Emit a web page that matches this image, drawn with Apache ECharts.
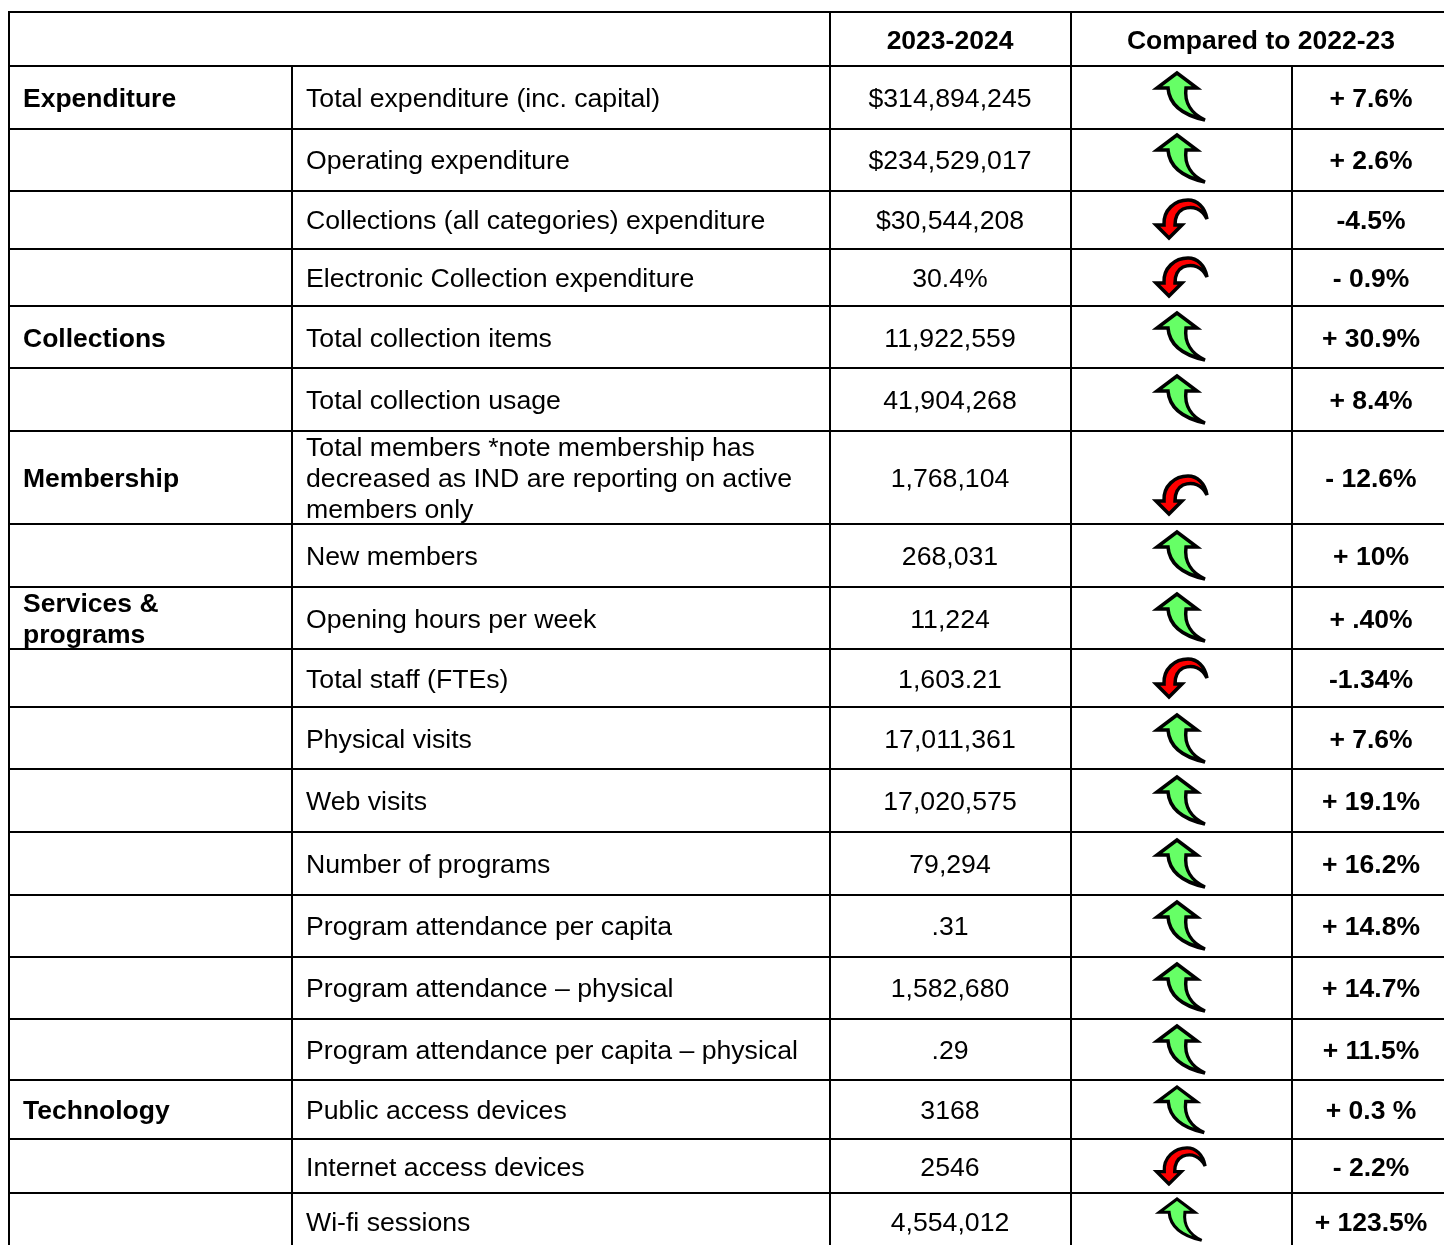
<!DOCTYPE html>
<html lang="en">
<head>
    <meta charset="UTF-8">
    <title>Library statistics 2023-2024</title>
    <script src="https://cdn.jsdelivr.net/npm/echarts@6/dist/echarts.min.js"></script>
    <style>
        html, body { margin: 0; padding: 0; background: #fff; }
    </style>
</head>
<body>
<div id="chart" style="width:1444px;height:1245px;"></div>
<script type="text/javascript">
    // table content
    var headers = ['2023-2024', 'Compared to 2022-23'];
    var groups = ['Expenditure', '', '', '', 'Collections', '', 'Membership', '', 'Services &\nprograms', '', '', '', '', '', '', '', 'Technology', '', ''];
    var measures = [
        'Total expenditure (inc. capital)',
        'Operating expenditure',
        'Collections (all categories) expenditure',
        'Electronic Collection expenditure',
        'Total collection items',
        'Total collection usage',
        'Total members *note membership has\ndecreased as IND are reporting on active\nmembers only',
        'New members',
        'Opening hours per week',
        'Total staff (FTEs)',
        'Physical visits',
        'Web visits',
        'Number of programs',
        'Program attendance per capita',
        'Program attendance \u2013 physical',
        'Program attendance per capita \u2013 physical',
        'Public access devices',
        'Internet access devices',
        'Wi-fi sessions'
    ];
    var values = ['$314,894,245', '$234,529,017', '$30,544,208', '30.4%', '11,922,559', '41,904,268', '1,768,104', '268,031', '11,224', '1,603.21', '17,011,361', '17,020,575', '79,294', '.31', '1,582,680', '.29', '3168', '2546', '4,554,012'];
    var changes = ['+ 7.6%', '+ 2.6%', '-4.5%', '- 0.9%', '+ 30.9%', '+ 8.4%', '- 12.6%', '+ 10%', '+ .40%', '-1.34%', '+ 7.6%', '+ 19.1%', '+ 16.2%', '+ 14.8%', '+ 14.7%', '+ 11.5%', '+ 0.3 %', '- 2.2%', '+ 123.5%'];

    // layout, in page pixels
    var rowLines = [66, 129, 191, 249, 306, 368, 431, 524, 587, 649, 707, 769, 832, 895, 957, 1019, 1080, 1139, 1193, 1245];
    var textY = [98, 160, 220, 278, 338, 400, 478, 556, 619, 679, 739, 801, 864, 926, 988, 1050, 1110, 1167, 1222];
    var arrowTop = [71, 133, 197, 255, 311, 374, 473, 530, 592, 656, 713, 775, 838, 900, 962, 1024, 1085, 1145, 1197];
    var arrowScale = [1, 1, 1, 1, 1, 1, 1, 1, 1, 1, 1, 1, 1, 1, 1, 1, 0.97, 0.95, 0.88];
    var colX = [9, 292, 830, 1071, 1292, 1444];
    var tableTop = 12;

    var GREEN_ARROW = 'M0,0 L-20,15 L-9,15 C-8,28 1,41 28,47 C15,41 7,30 9,15 L20,15 Z';
    var RED_ARROW = 'M0,0 L-13,-13 L-5,-13 C-6,-28 6,-38 19,-38 C28,-38 36,-31 38,-19 C33,-29 24,-33 14,-29 C8,-26 6,-20 6,-13 L13,-13 Z';

    var NORMAL_FONT = '26.67px "Liberation Sans", Arial, sans-serif';
    var BOLD_FONT = 'bold 26.5px "Liberation Sans", Arial, sans-serif';

    function textEl(api, str, x, y, font, align) {
        var p = api.coord([x, y]);
        return {
            type: 'text',
            style: { text: str, x: p[0], y: p[1] + 2, font: font, fill: '#000', align: align, verticalAlign: 'middle', lineHeight: 31 }
        };
    }

    function lineEl(api, x1, y1, x2, y2) {
        var a = api.coord([x1, y1]);
        var b = api.coord([x2, y2]);
        return {
            type: 'line',
            shape: { x1: a[0], y1: a[1], x2: b[0], y2: b[1] },
            style: { stroke: '#000', lineWidth: 2 }
        };
    }

    function arrowEl(api, i) {
        var up = changes[i].charAt(0) === '+';
        var s = arrowScale[i];
        var tipX = up ? 1177 : 1169;
        var tipY = up ? arrowTop[i] + 2 : arrowTop[i] + 41 * s;
        var p = api.coord([tipX, tipY]);
        return {
            type: 'path',
            x: p[0],
            y: p[1],
            scaleX: s,
            scaleY: s,
            shape: { pathData: up ? GREEN_ARROW : RED_ARROW, layout: 'none' },
            style: { fill: up ? '#66ff66' : '#ff0000', stroke: '#000', lineWidth: 3.5, lineJoin: 'miter', miterLimit: 4 }
        };
    }

    function renderHeader(params, api) {
        var kids = [
            lineEl(api, colX[0] - 1, tableTop, colX[5], tableTop),
            lineEl(api, colX[0], tableTop, colX[0], rowLines[rowLines.length - 1]),
            lineEl(api, colX[2], tableTop, colX[2], rowLines[rowLines.length - 1]),
            lineEl(api, colX[3], tableTop, colX[3], rowLines[rowLines.length - 1]),
            lineEl(api, colX[1], rowLines[0], colX[1], rowLines[rowLines.length - 1]),
            lineEl(api, colX[4], rowLines[0], colX[4], rowLines[rowLines.length - 1]),
            textEl(api, headers[0], 950, 40, BOLD_FONT, 'center'),
            textEl(api, headers[1], 1261, 40, BOLD_FONT, 'center')
        ];
        for (var i = 0; i < rowLines.length - 1; i++) {
            kids.push(lineEl(api, colX[0] - 1, rowLines[i], colX[5], rowLines[i]));
        }
        return { type: 'group', children: kids };
    }

    function renderRow(params, api) {
        var i = params.dataIndex;
        return {
            type: 'group',
            children: [
                textEl(api, groups[i], 23, textY[i] - 0.5, BOLD_FONT, 'left'),
                textEl(api, measures[i], 306, textY[i] - 0.5, NORMAL_FONT, 'left'),
                textEl(api, values[i], 950, textY[i] - 0.5, NORMAL_FONT, 'center'),
                arrowEl(api, i),
                textEl(api, changes[i], 1371, textY[i] - 0.5, BOLD_FONT, 'center')
            ]
        };
    }

    var myChart = echarts.init(document.getElementById('chart'), null, { renderer: 'canvas' });
    myChart.setOption({
        animation: false,
        backgroundColor: '#fff',
        grid: { left: 0, right: 0, top: 0, bottom: 0 },
        xAxis: { type: 'value', min: 0, max: 1444, show: false },
        yAxis: { type: 'value', min: 0, max: 1245, inverse: true, show: false },
        series: [{
            type: 'custom',
            silent: true,
            clip: false,
            renderItem: renderHeader,
            data: [[0, 0]]
        }, {
            type: 'custom',
            silent: true,
            clip: false,
            renderItem: renderRow,
            data: measures.map(function (m, i) { return [i, textY[i]]; })
        }]
    });
</script>
</body>
</html>
